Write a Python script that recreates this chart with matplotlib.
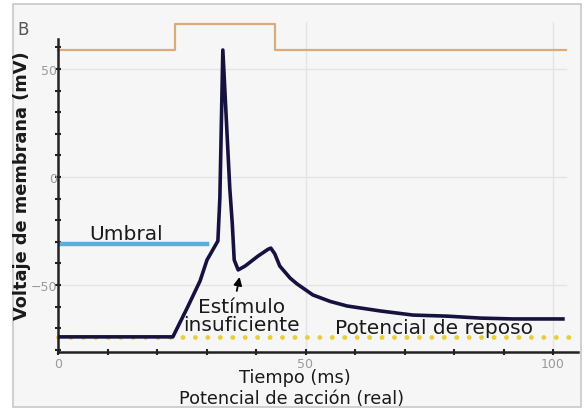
import matplotlib.pyplot as plt
from matplotlib.patches import Rectangle

# potencial de membrana (ms, mV)
t = [0, 23.2, 24.5, 26.1, 28.7, 30.1, 32.3, 32.7, 33.3, 34.7, 35.2, 35.6, 36.4,
     37.8, 40.4, 42.4, 43.0, 43.8, 44.8, 46.9, 48.3, 51.5, 55.0, 58.4, 65.1,
     71.7, 78.6, 85.3, 91.9, 102]
v = [-74, -74, -68, -60.6, -48.1, -38.4, -29.6, -9.7, 58.8, -5.1, -21.3, -38.4, -43,
     -41.2, -36.6, -33.5, -32.9, -35.6, -41.2, -46.8, -49.5, -54.6, -57.6, -59.7, -62,
     -63.9, -64.4, -65.3, -65.7, -65.7]

# estimulo (linea naranja)
t_est = [0, 23.6, 23.6, 43.8, 43.8, 102.6]
v_est = [58.8, 58.8, 70.8, 70.8, 58.8, 58.8]

umbral = -31
umbral_t = [0, 30.1]
reposo = -74
reposo_t = [0, 105]

xticks = [0, 50, 100]
yticks = [-50, 0, 50]

fig = plt.figure(figsize=(5.84, 4.10), dpi=100)
fig.patch.set_facecolor("white")
fig.add_artist(Rectangle((13/584, 2/410), 568/584, 403/410, transform=fig.transFigure,
                         facecolor="#f6f6f6", edgecolor="#c8c8c8", lw=1.2, zorder=-5))

ax = fig.add_axes([58/584, 57/410, 519.75/584, (353-22.5)/410])
ax.set_zorder(2)
ax.set_facecolor("none")
ax.set_xlim(0, 105)
ax.set_ylim(-81, 72)

for s in ["top", "right"]:
    ax.spines[s].set_visible(False)
ax.spines["left"].set_bounds(-81, 64)
ax.spines["left"].set_linewidth(1.8)
ax.spines["bottom"].set_linewidth(1.8)
ax.spines["left"].set_color("#222222")
ax.spines["bottom"].set_color("#222222")

ax.set_xticks(range(0, 101, 10), minor=True)
ax.set_yticks(range(-80, 61, 10), minor=True)
ax.set_xticks(xticks)
ax.set_yticks(yticks)
ax.tick_params(which="both", direction="inout", length=5, width=1.5, color="#222222",
               labelsize=9, labelcolor="#9a9a9a", pad=1)
ax.tick_params(axis="y", pad=-2)

for x in [50, 100]:
    ax.axvline(x, color="#e4e4e4", lw=1, zorder=0)
for y in yticks:
    ax.axhline(y, xmax=(102.6)/105, color="#e4e4e4", lw=1, zorder=0)

ax.plot(reposo_t, [reposo, reposo], color="#e6cf3a", lw=3.5, linestyle=(0, (0.01, 2.55)),
        dash_capstyle="round", zorder=1, clip_on=False)
ax.plot(t_est, v_est, color="#dcab7c", lw=1.6, clip_on=False, zorder=2)
ax.plot(umbral_t, [umbral, umbral], color="#5aafd9", lw=3.2, zorder=2)
ax.plot(t, v, color="#15123f", lw=2.6, zorder=3, solid_joinstyle="round")

ax.text(6.3, -26, "Umbral", fontsize=14.5, color="#1a1a1a", va="center")
ax.text(37.0, -64, "Estímulo\ninsuficiente", fontsize=14.5, color="#1a1a1a",
        ha="center", va="center", linespacing=0.9)
ax.annotate("", xy=(36.8, -45), xytext=(36.0, -54),
            arrowprops=dict(arrowstyle="-|>", color="black", lw=1.3, mutation_scale=12))
ax.text(56.0, -69.5, "Potencial de reposo", fontsize=14.5, color="#1a1a1a", va="center")

fig.text(17/584, 1 - 30/410, "B", fontsize=12, color="#555555", va="center")
fig.text(22/584, 1 - 186/410, "Voltaje de membrana (mV)", rotation=90, fontsize=12.8,
         fontweight="bold", color="#1a1a1a", ha="center", va="center")
fig.text(295/584, 1 - 378/410, "Tiempo (ms)", fontsize=12.8, color="#1a1a1a",
         ha="center", va="center")
fig.text(292/584, 1 - 399/410, "Potencial de acción (real)", fontsize=12.8, color="#1a1a1a",
         ha="center", va="center")

fig.savefig("out.png", dpi=100)
